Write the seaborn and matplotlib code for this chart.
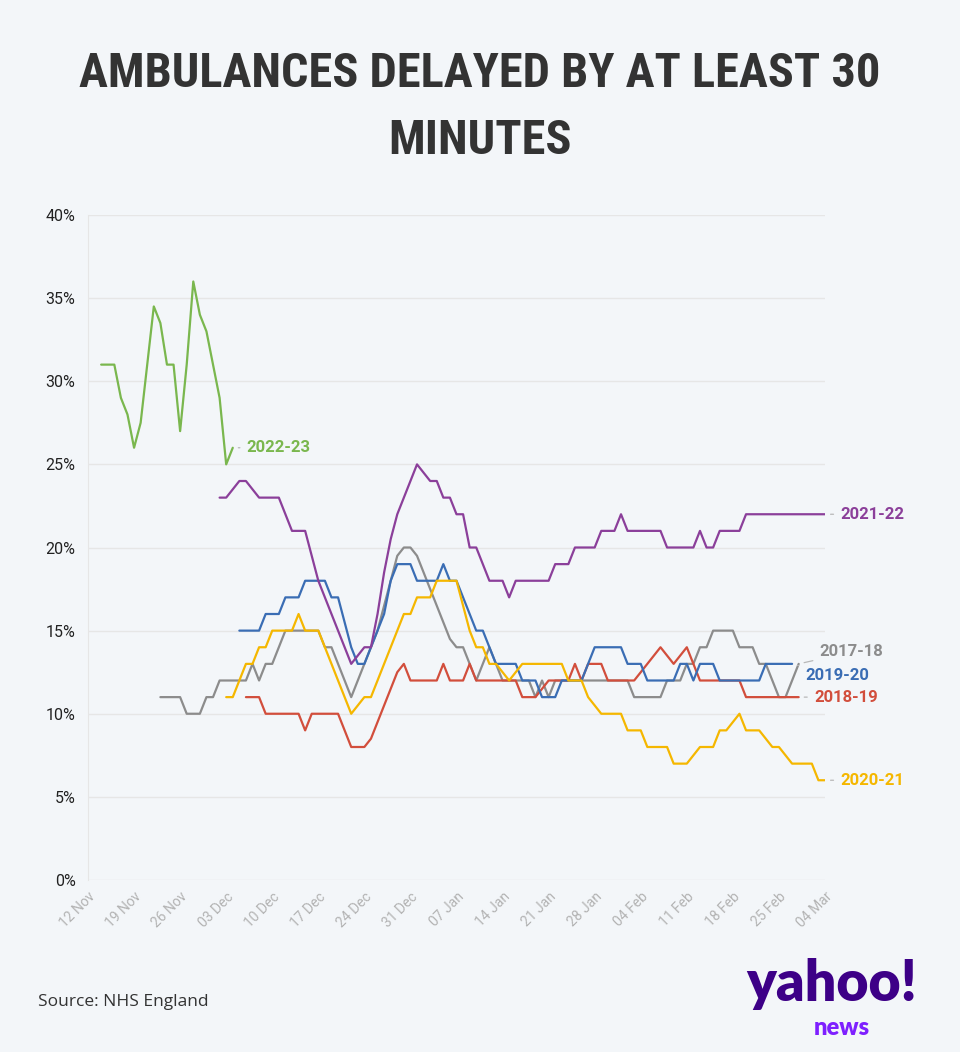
import pandas as pd
import matplotlib
matplotlib.use('Agg')
import matplotlib.pyplot as plt
from matplotlib import font_manager
import seaborn as sns

# x axis runs from 12 Nov to 04 Mar, one point per day
axis_start = '2022-11-12'
axis_end = '2023-03-04'

seasons = ['2017-18', '2018-19', '2019-20', '2020-21', '2021-22', '2022-23']
colors = ['#8c8c8c', '#d24e3c', '#3a6db4', '#f5b700', '#8b3f9a', '#7ab74e']

# first day of each series (days after 12 Nov)
start_day = [11, 24, 23, 21, 20, 2]

# % of ambulance handovers delayed 30+ minutes
pct_2017_18 = [11, 11, 11, 11, 10, 10, 10, 11, 11, 12, 12, 12, 12, 12,
               13, 12, 13, 13, 14, 15, 15, 15, 15, 15, 15, 14, 14, 13, 12,
               11, 12, 13, 14, 15, 16.5, 18, 19.5, 20, 20, 19.5, 18.5, 17.5,
               16.5, 15.5, 14.5, 14, 14, 13, 12, 13, 14, 13, 12, 12, 12, 12,
               12, 11, 12, 11, 12, 12, 12, 12, 12, 12, 12, 12, 12, 12, 12, 12,
               11, 11, 11, 11, 11, 12, 12, 12, 13, 13, 14, 14, 15, 15, 15, 15,
               14, 14, 14, 13, 13, 12, 11, 11, 12, 13]
pct_2018_19 = [11, 11, 11, 10, 10, 10, 10, 10, 10, 9, 10, 10, 10, 10, 10,
               9, 8, 8, 8, 8.5, 9.5, 10.5, 11.5, 12.5, 13, 12, 12, 12, 12, 12,
               13, 12, 12, 12, 13, 12, 12, 12, 12, 12, 12, 12, 11, 11, 11,
               11.5, 12, 12, 12, 12, 13, 12, 13, 13, 13, 12, 12, 12, 12, 12,
               12.5, 13, 13.5, 14, 13.5, 13, 13.5, 14, 13, 12, 12, 12, 12, 12,
               12, 12, 11, 11, 11, 11, 11, 11, 11, 11, 11]
pct_2019_20 = [15, 15, 15, 15, 16, 16, 16, 17, 17, 17, 18, 18, 18, 18, 17,
               17, 15.5, 14, 13, 13, 14, 15, 16, 18, 19, 19, 19, 18, 18, 18,
               18, 19, 18, 18, 17, 16, 15, 15, 14, 13, 13, 13, 13, 12, 12, 12,
               11, 11, 11, 12, 12, 12, 12, 13, 14, 14, 14, 14, 14, 13, 13, 13,
               12, 12, 12, 12, 12, 13, 13, 12, 13, 13, 13, 12, 12, 12, 12, 12,
               12, 12, 13, 13, 13, 13, 13]
pct_2020_21 = [11, 11, 12, 13, 13, 14, 14, 15, 15, 15, 15, 16, 15, 15, 15,
               14, 13, 12, 11, 10, 10.5, 11, 11, 12, 13, 14, 15, 16, 16, 17,
               17, 17, 18, 18, 18, 18, 16.5, 15, 14, 14, 13, 13, 12.5, 12,
               12.5, 13, 13, 13, 13, 13, 13, 13, 12, 12, 12, 11, 10.5, 10, 10,
               10, 10, 9, 9, 9, 8, 8, 8, 8, 7, 7, 7, 7.5, 8, 8, 8, 9, 9, 9.5,
               10, 9, 9, 9, 8.5, 8, 8, 7.5, 7, 7, 7, 7, 6, 6]
pct_2021_22 = [23, 23, 23.5, 24, 24, 23.5, 23, 23, 23, 23, 22, 21, 21, 21,
               19.5, 18, 17, 16, 15, 14, 13, 13.5, 14, 14, 16, 18.5, 20.5, 22,
               23, 24, 25, 24.5, 24, 24, 23, 23, 22, 22, 20, 20, 19, 18, 18,
               18, 17, 18, 18, 18, 18, 18, 18, 19, 19, 19, 20, 20, 20, 20, 21,
               21, 21, 22, 21, 21, 21, 21, 21, 21, 20, 20, 20, 20, 20, 21, 20,
               20, 21, 21, 21, 21, 22, 22, 22, 22, 22, 22, 22, 22, 22, 22, 22,
               22, 22]
pct_2022_23 = [31, 31, 31, 29, 28, 26, 27.5, 31, 34.5, 33.5, 31, 31, 27, 31,
               36, 34, 33, 31, 29, 25, 26]

series = [pct_2017_18, pct_2018_19, pct_2019_20, pct_2020_21, pct_2021_22, pct_2022_23]

# label offsets from the end of each line, in points (dx, dy)
label_offsets = {'2017-18': (15, 8.6), '2018-19': (11, 0), '2019-20': (9.5, -8.6),
                 '2020-21': (11, 0), '2021-22': (11, 0), '2022-23': (10, 0)}

bg = '#f3f6f9'

rows = []
t0 = pd.Timestamp(axis_start)
for season, first, vals in zip(seasons, start_day, series):
    for i, v in enumerate(vals):
        rows.append({'season': season, 'date': t0 + pd.Timedelta(days=first + i), 'pct': v})
df = pd.DataFrame(rows)

sns.set_style('white')
plt.rcParams['font.family'] = ['Roboto', 'DejaVu Sans']

fig = plt.figure(figsize=(9.6, 10.52), dpi=100)
fig.patch.set_facecolor(bg)
ax = fig.add_axes([88 / 960, 1 - 880 / 1052, (825 - 88) / 960, (880 - 215) / 1052])
ax.set_facecolor(bg)

palette = dict(zip(seasons, colors))
sns.lineplot(data=df, x='date', y='pct', hue='season', hue_order=seasons,
             palette=palette, linewidth=1.6, legend=False, estimator=None,
             ax=ax)

ax.set_xlim(pd.Timestamp(axis_start), pd.Timestamp(axis_end))
ax.set_ylim(0, 40)
yt = list(range(0, 41, 5))
ax.set_yticks(yt)
ax.set_yticklabels([f'{v}%' for v in yt], fontsize=11.5, color='#222222')
xt = pd.date_range(axis_start, axis_end, freq='7D')
ax.set_xticks(xt)
ax.set_xticklabels([d.strftime('%d %b') for d in xt], rotation=45, ha='right',
                   rotation_mode='anchor', fontsize=10, color='#b3b3b3')
ax.tick_params(axis='y', length=0, pad=9)
ax.tick_params(axis='x', length=4, color='#e2e2e2', pad=3)
ax.grid(axis='y', color='#e6e6e6', linewidth=1)
ax.set_axisbelow(True)
for s in ['top', 'right', 'bottom']:
    ax.spines[s].set_visible(False)
ax.spines['left'].set_color('#e6e6e6')
ax.set_xlabel('')
ax.set_ylabel('')

# end-of-line labels
for season, col in zip(seasons, colors):
    sub = df[df['season'] == season]
    end = sub.iloc[-1]
    dx, dy = label_offsets[season]
    ax.annotate(season, xy=(end['date'], end['pct']), xytext=(dx, dy),
                textcoords='offset points', ha='left', va='center',
                fontsize=12, fontweight='bold', color=col,
                arrowprops=dict(arrowstyle='-', color='#b8b8b8', lw=0.9,
                                shrinkA=2.5, shrinkB=4), annotation_clip=False)

# title, sized to the reference width
names = {f.name for f in font_manager.fontManager.ttflist}
title_font = next((f for f in ['Liberation Sans Narrow', 'Roboto Condensed',
                               'Open Sans Condensed', 'Noto Sans Condensed',
                               'DejaVu Sans'] if f in names), 'DejaVu Sans')
t1 = fig.text(0.5, 1 - 74 / 1052, 'AMBULANCES DELAYED BY AT LEAST 30', ha='center',
              va='center', fontsize=40, fontweight='heavy', family=title_font,
              fontstretch='condensed', color='#333333')
t2 = fig.text(0.5, 1 - 141 / 1052, 'MINUTES', ha='center', va='center',
              fontsize=40, fontweight='heavy', family=title_font,
              fontstretch='condensed', color='#333333')
fig.canvas.draw()
w = t1.get_window_extent().width
size = min(40 * 800 / w, 46)
t1.set_fontsize(size)
t2.set_fontsize(size)

fig.text(38 / 960, 1 - 1002 / 1052, 'Source: NHS England', ha='left', va='center',
         fontsize=12.5, color='#333333', family=['Open Sans', 'DejaVu Sans'])
fig.text(832 / 960, 1 - 984 / 1052, 'yahoo!', ha='center', va='center',
         fontsize=40, fontweight='heavy', color='#3d0087',
         family=['Lato', 'DejaVu Sans'])
fig.text(842 / 960, 1 - 1028 / 1052, 'news', ha='center', va='center',
         fontsize=17, fontweight='heavy', color='#7e1fff',
         family=['Lato', 'DejaVu Sans'])

fig.savefig('out.png', dpi=100, facecolor=bg)
